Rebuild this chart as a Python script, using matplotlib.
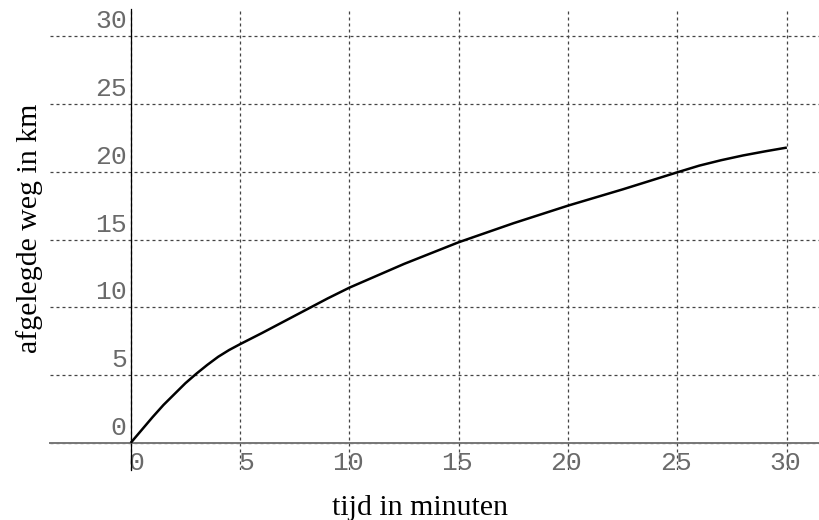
import numpy as np
import matplotlib
matplotlib.use("Agg")
import matplotlib.pyplot as plt
from matplotlib.transforms import ScaledTranslation

# values
tijd = [0, 0.5, 1, 1.5, 2, 2.5, 3, 3.5, 4, 4.5, 5, 6, 7, 8, 9, 10, 12.5, 15,
        17.5, 20, 22.5, 25, 26, 27, 28, 29, 30]
afstand = [0, 0.95, 1.9, 2.8, 3.6, 4.4, 5.1, 5.75, 6.35, 6.85, 7.28, 8.1, 8.95,
           9.8, 10.65, 11.45, 13.2, 14.8, 16.2, 17.5, 18.7, 19.96, 20.45,
           20.85, 21.2, 21.5, 21.78]

x_ticks = [0, 5, 10, 15, 20, 25, 30]
y_ticks = [0, 5, 10, 15, 20, 25, 30]
x_label = "tijd in minuten"
y_label = "afgelegde weg in km"

fig = plt.figure(figsize=(8.19, 5.20), dpi=100)
ax = fig.add_axes([50/819, 50/520, 769/819, 461/520])

ax.set_xlim(-3.69, 31.47)
ax.set_ylim(-2.0, 32.0)

# axes cross at the origin
ax.spines["left"].set_position(("data", 0))
ax.spines["bottom"].set_position(("data", 0))
ax.spines["right"].set_visible(False)
ax.spines["top"].set_visible(False)
ax.spines["left"].set_color("black")
ax.spines["left"].set_linewidth(0.9)
ax.spines["bottom"].set_color("#777777")
ax.spines["bottom"].set_linewidth(1.4)
for sp in ax.spines.values():
    sp.set_zorder(3)

ax.set_xticks(x_ticks)
ax.set_yticks(y_ticks)
ax.tick_params(length=0, labelbottom=False, labelleft=False)
ax.grid(True, color="#444444", linewidth=0.9, linestyle=(0, (2.4, 2.4)))

# curve
ax.plot(tijd, afstand, color="black", linewidth=1.8, zorder=4,
        solid_capstyle="butt", solid_joinstyle="round")

# tick labels, thin monospace, offset like the original
mono = dict(family="Liberation Mono", fontsize=19, color="#6a6a6a")
px = 1 / 100  # one pixel in inches
for t in x_ticks:
    tr = ax.transData + ScaledTranslation(14*px, -27*px, fig.dpi_scale_trans)
    ax.text(t, 0, str(t), transform=tr, ha="right", va="baseline", **mono)
for v in y_ticks:
    tr = ax.transData + ScaledTranslation(-4*px, 8*px, fig.dpi_scale_trans)
    ax.text(0, v, str(v), transform=tr, ha="right", va="baseline", **mono)

serif = dict(family="Liberation Serif", fontsize=21.5, color="black")
fig.text(420/819, 5/520, x_label, ha="center", va="baseline", **serif)
fig.text(30/819, 1 - 228/520, y_label, ha="center", va="center",
         rotation=90, **serif)

fig.savefig("out.png", dpi=100)
